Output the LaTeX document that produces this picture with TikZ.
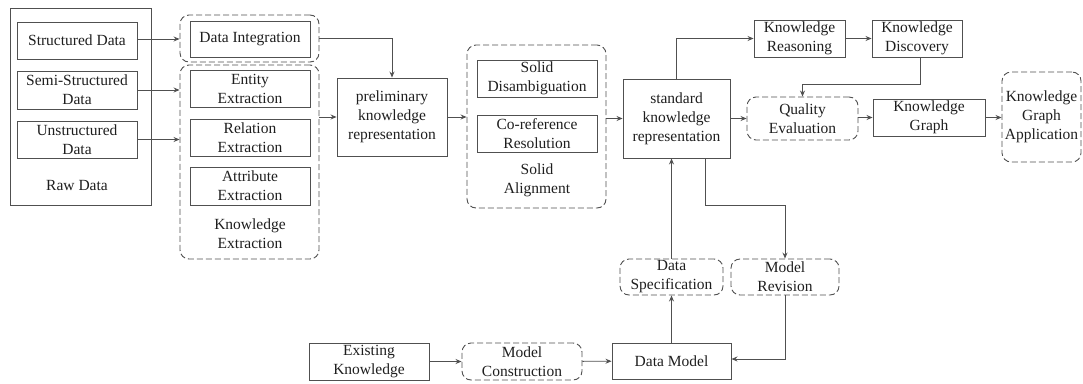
\documentclass[tikz,border=0pt]{standalone}
\usepackage{fontspec}
\setmainfont{Liberation Serif}
\usepackage{tikz}
\usepackage{xcolor}
\usetikzlibrary{arrows.meta}
\definecolor{linegray}{HTML}{505050}
\definecolor{textgray}{HTML}{1E1E1E}
\tikzstyle{boxes} = [rectangle, draw=linegray, line width=0.9pt, inner sep=0pt, align=center, text=textgray]
\tikzstyle{dboxes} = [rectangle, draw=linegray, line width=0.9pt, dash pattern=on 6pt off 3pt, rounded corners=9pt, inner sep=0pt, align=center, text=textgray]
\tikzstyle{lbl} = [inner sep=0pt, align=center, text=textgray]
\tikzstyle{arrow} = [draw=linegray, line width=0.9pt, -{Stealth[length=6pt,width=5pt]}]

\begin{document}
\begin{tikzpicture}[x=1pt, y=-1pt, font=\fontsize{15.5}{19}\selectfont]
            \useasboundingbox (0,0) rectangle (1083,383);
            % Draw Boxes
            \node(raw) [boxes, minimum width=141pt, minimum height=197pt] at (80.5,106.5) {};
            \node(sd) [boxes, minimum width=120pt, minimum height=37pt] at (77,40.5) {Structured Data};
            \node(ssd) [boxes, minimum width=120pt, minimum height=38pt] at (77,90) {Semi-Structured\\Data};
            \node(usd) [boxes, minimum width=120pt, minimum height=37pt] at (77,139.5) {Unstructured\\Data};
            \node(rawlbl) [lbl] at (77,185) {Raw Data};

            \node(dintc) [dboxes, minimum width=139pt, minimum height=47pt] at (249.5,38.5) {};
            \node(dint) [boxes, minimum width=120pt, minimum height=36pt] at (250,39) {Data Integration};
            \node(kext) [dboxes, minimum width=139pt, minimum height=194pt] at (249.5,162) {};
            \node(ent) [boxes, minimum width=120pt, minimum height=37pt] at (250,88.5) {Entity\\Extraction};
            \node(rel) [boxes, minimum width=120pt, minimum height=37pt] at (250,137.5) {Relation\\Extraction};
            \node(attr) [boxes, minimum width=120pt, minimum height=38pt] at (250,186) {Attribute\\Extraction};
            \node(kelbl) [lbl] at (250,234) {Knowledge\\Extraction};

            \node(prelim) [boxes, minimum width=110pt, minimum height=78pt] at (392,117) {preliminary\\knowledge\\representation};

            \node(salign) [dboxes, minimum width=139pt, minimum height=163pt] at (536.5,126.5) {};
            \node(sdis) [boxes, minimum width=120pt, minimum height=37pt] at (537,78.5) {Solid\\Disambiguation};
            \node(coref) [boxes, minimum width=120pt, minimum height=37pt] at (537,133.5) {Co-reference\\Resolution};
            \node(salbl) [lbl] at (537,180.5) {Solid\\Alignment};

            \node(std) [boxes, minimum width=107pt, minimum height=79pt] at (676.5,118.5) {standard\\knowledge\\representation};
            \node(kr) [boxes, minimum width=91pt, minimum height=37pt] at (799.5,38.5) {Knowledge\\Reasoning};
            \node(kd) [boxes, minimum width=90pt, minimum height=37pt] at (917,38.5) {Knowledge\\Discovery};
            \node(qe) [dboxes, minimum width=111pt, minimum height=43pt] at (802.5,118.5) {Quality\\Evaluation};
            \node(kg) [boxes, minimum width=112pt, minimum height=37pt] at (929,117.5) {Knowledge\\Graph};
            \node(kga) [dboxes, minimum width=79pt, minimum height=90pt] at (1041.5,117) {Knowledge\\Graph\\Application};

            \node(ds) [dboxes, minimum width=103pt, minimum height=36pt] at (671.5,277) {Data\\Specification};
            \node(mr) [dboxes, minimum width=108pt, minimum height=36pt] at (785,277) {Model\\Revision};
            \node(dm) [boxes, minimum width=119pt, minimum height=36pt] at (671.5,361) {Data Model};
            \node(ek) [boxes, minimum width=120pt, minimum height=37pt] at (369,361.5) {Existing\\Knowledge};
            \node(mc) [dboxes, minimum width=120pt, minimum height=37pt] at (522,361.5) {Model\\Construction};

            % Draw Arrows
            \draw[arrow] ([yshift=1.5pt]sd.east) -- ([yshift=1.5pt]sd.east -| dintc.west);
            \draw[arrow] (ssd.east) -- (ssd.east -| kext.west);
            \draw[arrow] (usd.east) -- (usd.east -| kext.west);
            \draw[arrow] (dintc.east) -| (prelim.north);
            \draw[arrow] (prelim.west -| kext.east) -- (prelim.west);
            \draw[arrow] (prelim.east) -- (prelim.east -| salign.west);
            \draw[arrow] (std.west -| salign.east) -- (std.west);
            \draw[arrow] (std.north) |- (kr.west);
            \draw[arrow] (kr) -- (kd);
            \draw[arrow] ([xshift=3pt]kd.south) -- ++(0,27) -| (qe.north);
            \draw[arrow] (std.east) -- (std.east -| qe.west);
            \draw[arrow] (qe.east |- kg.west) -- (kg.west);
            \draw[arrow] (kg.east) -- (kg.east -| kga.west);
            \draw[arrow] ([xshift=28.5pt]std.south) -- ++(0,47) -| (mr.north);
            \draw[arrow] (ds.north) -- (ds.north |- std.south);
            \draw[arrow] (dm) -- (ds);
            \draw[arrow] (mr.south) |- ([yshift=2pt]dm.east);
            \draw[arrow] (ek) -- (mc);
            \draw[arrow] (mc) -- (dm);
        \end{tikzpicture}
\end{document}
